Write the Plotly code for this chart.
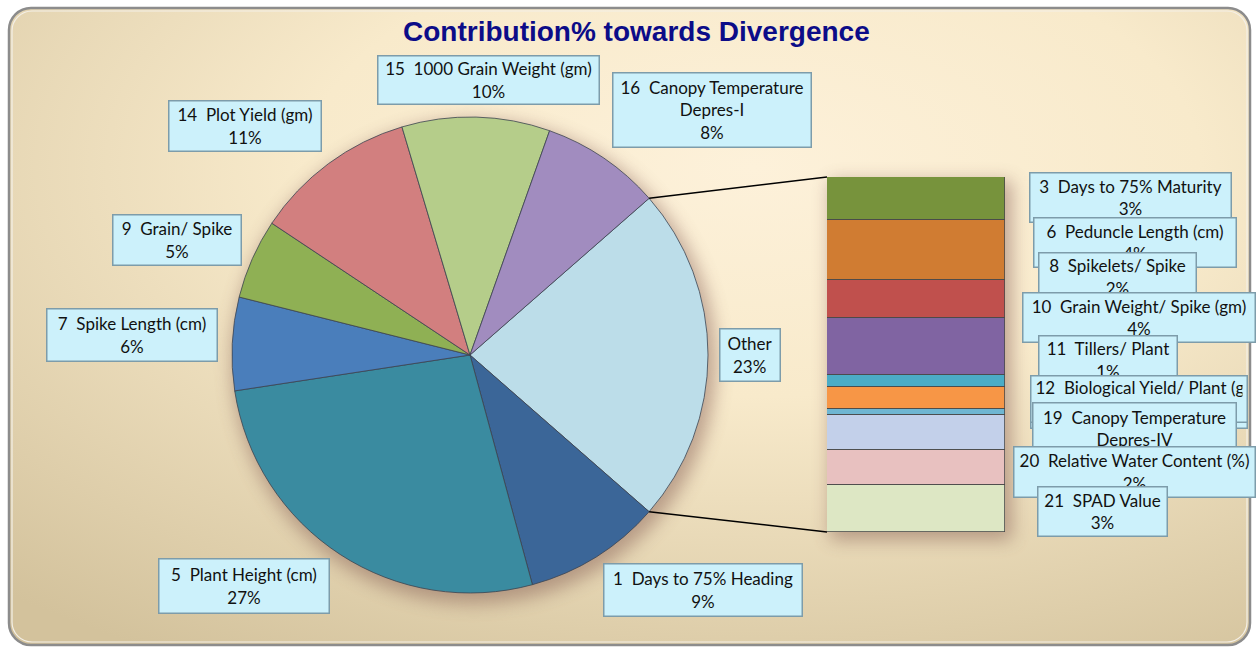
import base64
import math
import plotly.graph_objects as go

# ---------------- data ----------------
pie_labels = ["Other", "1  Days to 75% Heading", "5  Plant Height (cm)", "7  Spike Length (cm)",
              "9  Grain/ Spike", "14  Plot Yield (gm)", "15  1000 Grain Weight (gm)",
              "16  Canopy Temperature<br>Depres-I"]
pie_main_values = [9.3, 26.7, 6.3, 5.4, 11.0, 10.0, 8.1]   # values after "Other"
pie_colors = ["#bcdde9", "#3b6698", "#3a8ba0", "#4a7ebb", "#8fb054", "#d27f7f", "#b5cd8a", "#a18cbf"]

# bar of "Other", listed top to bottom
bar_labels = ["3  Days to 75% Maturity", "6  Peduncle Length (cm)", "8  Spikelets/ Spike",
              "10  Grain Weight/ Spike (gm)", "11  Tillers/ Plant", "12  Biological Yield/ Plant (gm)",
              "18  Canopy Temperature Depres-III", "19  Canopy Temperature<br>Depres-IV",
              "20  Relative Water Content (%)", "21  SPAD Value"]
bar_values = [2.75, 3.86, 2.44, 3.66, 0.76, 1.44, 0.39, 2.22, 2.24, 3.02]
bar_colors = ["#77933c", "#d07c32", "#c0504d", "#8064a2", "#4bacc6", "#f79646",
              "#6fb6d2", "#c3d0ea", "#e8c1c0", "#dde7c4"]

title_text = "Contribution% towards Divergence"

# ---------------- layout constants ----------------
W, H = 1257, 651
PIE_CX, PIE_CY, PIE_R = 470, 355, 238
BAR_X0, BAR_X1, BAR_Y0, BAR_Y1 = 827, 1005, 177, 532


def px(x):
    return x / W


def py(y):
    return 1 - y / H


other_value = sum(bar_values)
pie_values = [other_value] + pie_main_values
total = sum(pie_values)
half_span = other_value / total * 360 / 2

fig = go.Figure()

fig.add_trace(go.Pie(
    labels=pie_labels, values=pie_values, sort=False, direction="clockwise",
    rotation=90 - half_span, textinfo="none", hoverinfo="label+percent",
    marker=dict(colors=pie_colors, line=dict(color="#3c4450", width=0.8)),
    domain=dict(x=[px(PIE_CX - PIE_R), px(PIE_CX + PIE_R)],
                y=[py(PIE_CY + PIE_R), py(PIE_CY - PIE_R)]),
    showlegend=False,
))

for lab, v, c in zip(bar_labels, bar_values, bar_colors):
    fig.add_trace(go.Bar(
        x=[0], y=[v], width=1, name=lab.replace("<br>", " "),
        marker=dict(color=c, line=dict(color="#4a4a4a", width=0.8)),
        showlegend=False, hoverinfo="name+y",
    ))

# connector lines from "Other" slice edges to the bar
a = math.radians(half_span)
top_pt = (PIE_CX + PIE_R * math.cos(a), PIE_CY - PIE_R * math.sin(a))
bot_pt = (PIE_CX + PIE_R * math.cos(a), PIE_CY + PIE_R * math.sin(a))
shapes = [
    dict(type="line", xref="paper", yref="paper", x0=px(top_pt[0]), y0=py(top_pt[1]),
         x1=px(BAR_X0), y1=py(BAR_Y0), line=dict(color="black", width=1.5)),
    dict(type="line", xref="paper", yref="paper", x0=px(bot_pt[0]), y0=py(bot_pt[1]),
         x1=px(BAR_X0), y1=py(BAR_Y1), line=dict(color="black", width=1.5)),
]

# background (rounded panel with radial gradient and soft shadows)
svg = f'''<svg xmlns="http://www.w3.org/2000/svg" width="{W}" height="{H}" viewBox="0 0 {W} {H}" preserveAspectRatio="none">
<defs>
<radialGradient id="g" cx="0.6" cy="0.25" r="0.9">
<stop offset="0" stop-color="#fdf1da"/><stop offset="0.4" stop-color="#f8eacb"/>
<stop offset="1" stop-color="#d3c29c"/></radialGradient>
<filter id="b" x="-20%" y="-20%" width="140%" height="140%"><feGaussianBlur stdDeviation="9"/></filter>
</defs>
<rect x="9" y="8" width="1241" height="637" rx="22" ry="22" fill="url(#g)" stroke="#8c8c8c" stroke-width="2.5"/>
<rect x="12" y="11" width="1235" height="631" rx="20" ry="20" fill="none" stroke="#f4f0e8" stroke-width="1.2"/>
<circle cx="{PIE_CX + 4}" cy="{PIE_CY + 7}" r="{PIE_R + 4}" fill="#7a5048" opacity="0.45" filter="url(#b)"/>
<rect x="{BAR_X0 + 3}" y="{BAR_Y0 + 4}" width="{BAR_X1 - BAR_X0 + 4}" height="{BAR_Y1 - BAR_Y0 + 4}" fill="#7a5048" opacity="0.45" filter="url(#b)"/>
</svg>'''
src = "data:image/svg+xml;base64," + base64.b64encode(svg.encode()).decode()

NB = "\u00a0"
PAD = 4


def fmt(label, pct):
    return label.replace("  ", NB + NB) + "<br>" + f"{pct}%"


annotations = [dict(text=f"<b>{title_text}</b>", x=px(636), y=py(32), xref="paper", yref="paper",
                    xanchor="center", yanchor="middle", showarrow=False,
                    font=dict(family="Liberation Sans Narrow, Arial Narrow, Liberation Sans, sans-serif",
                              size=28, color="#0c0c88"))]

box_style = dict(xref="paper", yref="paper", showarrow=False, bgcolor="#ccf1fb",
                 bordercolor="#7d9caa", borderwidth=1.5, borderpad=PAD,
                 xanchor="center", yanchor="middle",
                 font=dict(family="Lato, sans-serif", size=17, color="#111111"))


def box(text, cx, cy, w, h, align="center"):
    return dict(text=text, x=px(cx), y=py(cy), width=w - 3 - 2 * PAD, height=h - 3 - 2 * PAD,
                align=align, **box_style)


# label boxes: (cx, cy, w, h) in pixels
pie_boxes = [(750, 355, 62, 54), (703, 590, 200, 54), (244, 586, 172, 56), (132, 335, 172, 54),
             (177, 240, 130, 52), (245, 126, 154, 52), (488, 80, 223, 50), (712, 110, 200, 76)]
for lab, v, (cx, cy, w, h) in zip(pie_labels, pie_values, pie_boxes):
    annotations.append(box(fmt(lab, round(v / total * 100)), cx, cy, w, h))

bar_boxes = [(1130, 197, 203, 51), (1135, 242, 204, 51), (1117, 277, 159, 50), (1139, 317, 234, 51),
             (1108, 360, 140, 50), (1139, 399, 218, 48), (1139, 402, 218, 54), (1134, 440, 205, 76),
             (1134, 472, 243, 52), (1102, 511, 131, 51)]
bar_align = ["center", "center", "center", "center", "center", "left", "left", "center", "center", "center"]
draw_order = [0, 1, 2, 3, 4, 6, 5, 7, 8, 9]   # label boxes overlap; later ones on top
for i in draw_order:
    cx, cy, w, h = bar_boxes[i]
    annotations.append(box(fmt(bar_labels[i], round(bar_values[i] / total * 100)),
                           cx, cy, w, h, bar_align[i]))

fig.update_layout(
    width=W, height=H, margin=dict(l=0, r=0, t=0, b=0),
    paper_bgcolor="white", plot_bgcolor="rgba(0,0,0,0)",
    barmode="stack", bargap=0,
    xaxis=dict(domain=[px(BAR_X0), px(BAR_X1)], range=[-0.5, 0.5], visible=False, fixedrange=True),
    yaxis=dict(domain=[py(BAR_Y1), py(BAR_Y0)], range=[other_value, 0], visible=False, fixedrange=True),
    shapes=shapes, annotations=annotations,
    images=[dict(source=src, xref="paper", yref="paper", x=0, y=1, sizex=1, sizey=1,
                 xanchor="left", yanchor="top", sizing="stretch", layer="below")],
)

fig.write_html("out.html")
